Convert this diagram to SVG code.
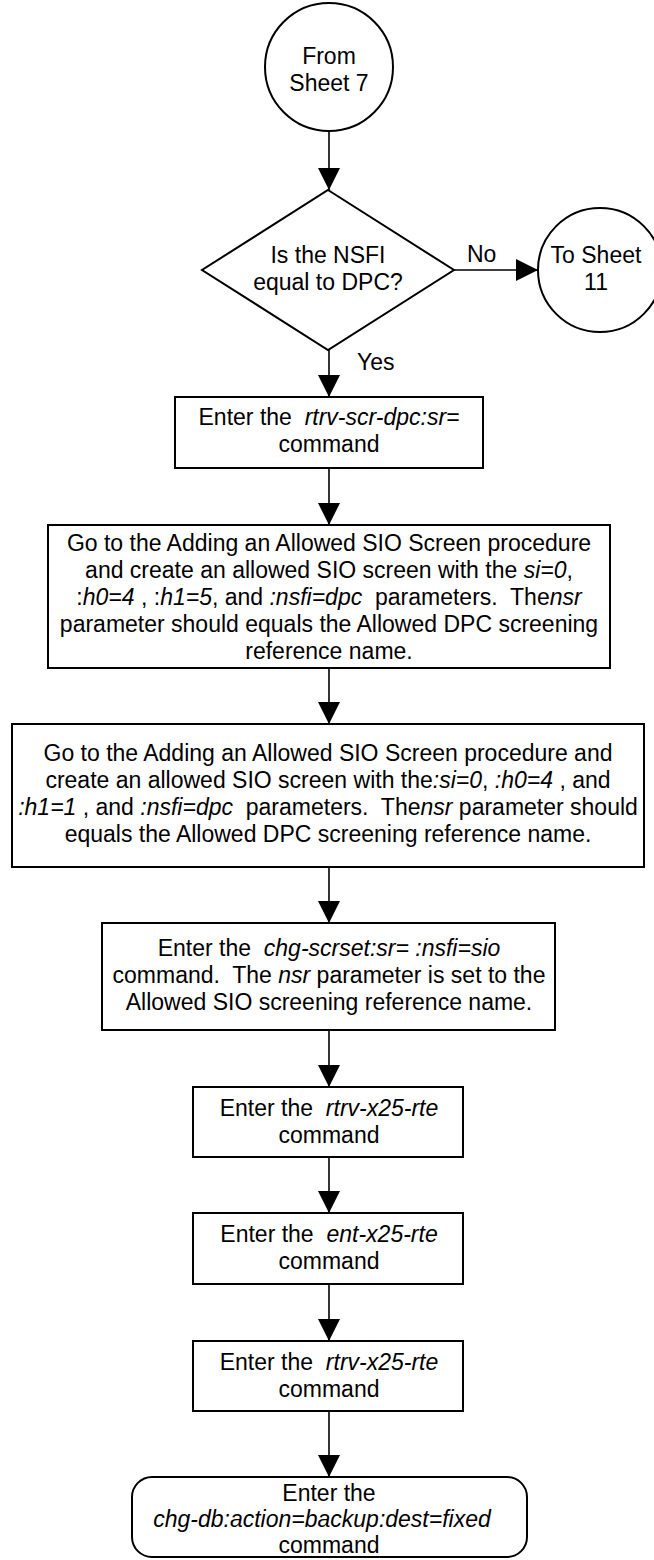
<svg xmlns="http://www.w3.org/2000/svg" width="654" height="1560" viewBox="0 0 654 1560">
<style>
.shape{fill:#fff;stroke:#000;stroke-width:2}
.conn{fill:none;stroke:#000;stroke-width:1.6}
text{font-family:"Liberation Sans",Arial,sans-serif;font-size:23px;fill:#000;text-anchor:middle}
.lbl{text-anchor:start}
.i{font-style:italic}
</style>
<defs>
<marker id="ah" markerUnits="userSpaceOnUse" markerWidth="22" markerHeight="22" refX="22" refY="11" orient="auto">
<path d="M0,0 L22,11 L0,22 z" fill="#000"/>
</marker>
</defs>
<rect width="654" height="1560" fill="#fff"/>
<g id="connectors">
<path class="conn" d="M329,131 L329,190" marker-end="url(#ah)"/>
<path class="conn" d="M329,350 L329,397" marker-end="url(#ah)"/>
<path class="conn" d="M454,270 L538,270" marker-end="url(#ah)"/>
<path class="conn" d="M329,468 L329,525" marker-end="url(#ah)"/>
<path class="conn" d="M329,668 L329,724" marker-end="url(#ah)"/>
<path class="conn" d="M329,867 L329,923" marker-end="url(#ah)"/>
<path class="conn" d="M329,1030 L329,1087" marker-end="url(#ah)"/>
<path class="conn" d="M329,1157 L329,1213" marker-end="url(#ah)"/>
<path class="conn" d="M329,1284 L329,1341" marker-end="url(#ah)"/>
<path class="conn" d="M329,1411 L329,1477" marker-end="url(#ah)"/>
<text class="lbl" x="467" y="262">No</text>
<text class="lbl" x="357" y="370">Yes</text>
</g>
<g id="start">
<circle class="shape" cx="329" cy="67" r="64"/>
<text x="329" y="64">From</text>
<text x="329" y="91">Sheet 7</text>
</g>
<g id="decision">
<path class="shape" d="M328,190 L454,270 L328,350 L202,270 z"/>
<text x="328" y="263">Is the NSFI</text>
<text x="328" y="290">equal to DPC?</text>
</g>
<g id="toSheet11">
<circle class="shape" cx="600" cy="270" r="62"/>
<text x="596" y="263">To Sheet</text>
<text x="596" y="290">11</text>
</g>
<g id="box1">
<rect class="shape" x="175" y="397" width="308" height="71"/>
<text x="329" y="425" xml:space="preserve">Enter the  <tspan class="i">rtrv-scr-dpc:sr=</tspan></text>
<text x="329" y="452">command</text>
</g>
<g id="box2">
<rect class="shape" x="48" y="525" width="562" height="143"/>
<text x="329" y="551">Go to the Adding an Allowed SIO Screen procedure</text>
<text x="329" y="578" xml:space="preserve">and create an allowed SIO screen with the <tspan class="i">si=0</tspan>,</text>
<text x="329" y="605" xml:space="preserve">:<tspan class="i">h0=4</tspan> , :<tspan class="i">h1=5</tspan>, and <tspan class="i">:nsfi=dpc</tspan>  parameters.  The<tspan class="i">nsr</tspan></text>
<text x="329" y="632">parameter should equals the Allowed DPC screening</text>
<text x="329" y="659">reference name.</text>
</g>
<g id="box3">
<rect class="shape" x="12" y="724" width="632" height="143"/>
<text x="328" y="761">Go to the Adding an Allowed SIO Screen procedure and</text>
<text x="328" y="788" xml:space="preserve">create an allowed SIO screen with the<tspan class="i">:si=0</tspan>, <tspan class="i">:h0=4</tspan> , and</text>
<text x="328" y="815" xml:space="preserve"><tspan class="i">:h1=1</tspan> , and <tspan class="i">:nsfi=dpc</tspan>  parameters.  The<tspan class="i">nsr</tspan> parameter should</text>
<text x="328" y="842">equals the Allowed DPC screening reference name.</text>
</g>
<g id="box4">
<rect class="shape" x="102" y="923" width="453" height="107"/>
<text x="329" y="956" xml:space="preserve">Enter the  <tspan class="i">chg-scrset:sr= :nsfi=sio</tspan></text>
<text x="329" y="983" xml:space="preserve">command.  The <tspan class="i">nsr</tspan> parameter is set to the</text>
<text x="329" y="1010">Allowed SIO screening reference name.</text>
</g>
<g id="box5">
<rect class="shape" x="193" y="1087" width="270" height="70"/>
<text x="329" y="1116" xml:space="preserve">Enter the  <tspan class="i">rtrv-x25-rte</tspan></text>
<text x="329" y="1143">command</text>
</g>
<g id="box6">
<rect class="shape" x="193" y="1213" width="270" height="71"/>
<text x="329" y="1242" xml:space="preserve">Enter the  <tspan class="i">ent-x25-rte</tspan></text>
<text x="329" y="1269">command</text>
</g>
<g id="box7">
<rect class="shape" x="193" y="1341" width="270" height="70"/>
<text x="329" y="1370" xml:space="preserve">Enter the  <tspan class="i">rtrv-x25-rte</tspan></text>
<text x="329" y="1397">command</text>
</g>
<g id="end">
<rect class="shape" x="132" y="1477" width="395" height="80" rx="20" ry="20"/>
<text x="329" y="1501">Enter the</text>
<text x="322" y="1527" class="i">chg-db:action=backup:dest=fixed</text>
<text x="329" y="1553">command</text>
</g>
</svg>
